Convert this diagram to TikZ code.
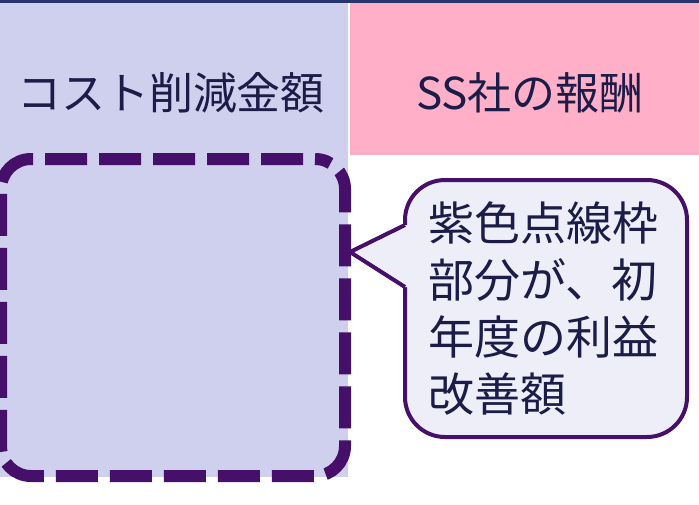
\documentclass[tikz,border=0pt]{standalone}
\usepackage{fontspec}
\setmainfont{Noto Sans CJK JP}
\usepackage{tikz}
\definecolor{colcost}{RGB}{207,207,238}
\definecolor{colfee}{RGB}{255,176,200}
\definecolor{coltop}{RGB}{40,52,110}
\definecolor{colframe}{RGB}{70,16,106}
\definecolor{coltext}{RGB}{28,28,72}
\definecolor{colnote}{RGB}{238,238,248}
\tikzset{
	header/.style={text=coltext, font=\fontsize{44}{52}\selectfont, inner sep=0pt},
	frame/.style={draw=colframe, line width=12pt, rounded corners=30pt, dash pattern=on 42pt off 12pt, dash phase=-12pt},
	note/.style={draw=colframe, line width=4pt, fill=colnote, rounded corners=40pt, text=coltext,
		font=\fontsize{46}{57}\selectfont, align=left, text width=236pt, inner xsep=23pt, inner ysep=0pt}
}

\begin{document}
\begin{tikzpicture}[x=1pt, y=-1pt]
	\useasboundingbox (0,0) rectangle (699,504);
	\fill[colcost] (0,0) rectangle (348,477);
	\fill[colfee] (350,0) rectangle (699,155);
	\fill[coltop] (0,0) rectangle (699,2.5);
	\node[header] (cost) at (171,93) {コスト削減金額};
	\node[header] (fee) at (530,93) {SS社の報酬};
	\node[frame, minimum width=344pt, minimum height=317pt] (dashbox) at (173,317.5) {};
	\node[note, minimum width=282pt, minimum height=257pt] (callbox) at (546,308.5) {紫色点線枠\\部分が、初\\年度の利益\\改善額};
	\coordinate (tip) at (350,252);
	\fill[colnote] (405,225) -- (tip) -- (405,287) -- (409,287) -- (409,225) -- cycle;
	\draw[colframe, line width=4pt, line join=miter] (405,225) -- (tip) -- (405,287);
\end{tikzpicture}
\end{document}
